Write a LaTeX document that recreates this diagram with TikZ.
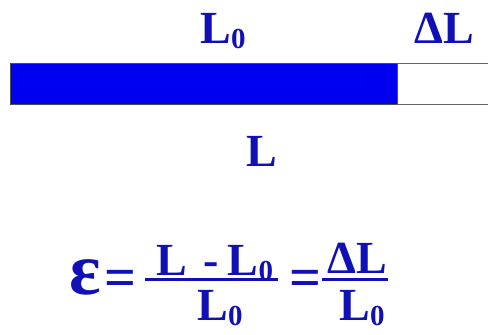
\documentclass[tikz,border=0pt]{standalone}
\usepackage{fontspec}
\setmainfont{Liberation Serif}
\usetikzlibrary{positioning}
\definecolor{labelblue}{RGB}{16,16,182}
\definecolor{barblue}{RGB}{0,0,240}
\newcommand{\lsub}[1]{\raisebox{-0.12em}{\fontsize{29}{30}\selectfont #1}}

\begin{document}
\begin{tikzpicture}[x=1pt,y=-1pt,
  lbl/.style={text=labelblue, font=\fontsize{46}{50}\selectfont\bfseries, inner sep=0pt, anchor=base},
  eqsign/.style={lbl, font=\fontsize{56}{60}\selectfont\bfseries},
  fracline/.style={labelblue, line width=3pt}]
\useasboundingbox (0,0) rectangle (488,335);

% Bar: original length in blue, extension left white
\fill[barblue, draw=black!70, thin] (10,63) rectangle (397,104);
\draw[black!60, thin] (397,63) -- (488,63) (397,104) -- (488,104);

\node[lbl] (lzero) at (223,43) {L\lsub{0}};
\node[lbl] (dl) at (444,43) {ΔL};
\node[lbl] (ltot) at (262,166) {L};

% Strain formula
\node[lbl, font=\fontsize{74}{78}\selectfont\bfseries] (eps) at (85,294) {ε};
\node[eqsign] (eqa) at (120,296) {=};
\node[lbl] (numa) at (215,275) {L\hspace{16pt}-\hspace{9pt}L\lsub{0}};
\node[lbl] (dena) at (220,320) {L\lsub{0}};
\coordinate (fa1) at (145,279);
\coordinate (fa2) at (278,279);
\draw[fracline] (fa1) -- (fa2);

\node[eqsign] (eqb) at (305,296) {=};
\node[lbl] (numb) at (357,273) {ΔL};
\node[lbl] (denb) at (362,320) {L\lsub{0}};
\coordinate (fb1) at (322,279);
\coordinate (fb2) at (388,279);
\draw[fracline] (fb1) -- (fb2);
\end{tikzpicture}
\end{document}
